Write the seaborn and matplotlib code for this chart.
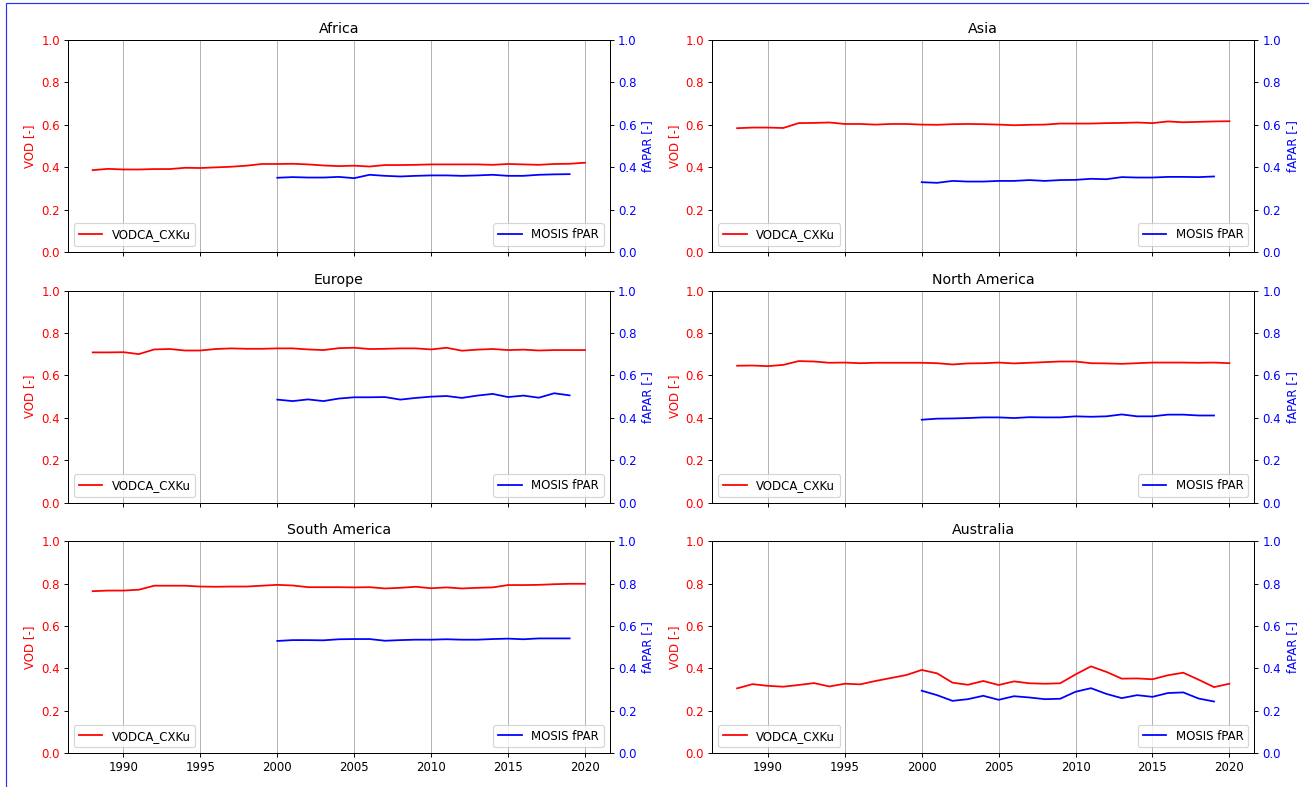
import numpy as np
import pandas as pd
import matplotlib
matplotlib.use("Agg")
import matplotlib.pyplot as plt
from matplotlib.patches import Rectangle
import seaborn as sns

# years for each product
vod_years = list(range(1988, 2021))
fapar_years = list(range(2000, 2020))

regions = ['Africa', 'Asia', 'Europe', 'North America', 'South America', 'Australia']

vod_africa = [0.386, 0.392, 0.389, 0.389, 0.391, 0.391, 0.397, 0.396, 0.399, 0.402, 0.407,
              0.415, 0.415, 0.416, 0.413, 0.408, 0.405, 0.407, 0.403, 0.410, 0.410, 0.411,
              0.413, 0.413, 0.413, 0.413, 0.411, 0.415, 0.413, 0.411, 0.415, 0.416, 0.421]
vod_asia = [0.584, 0.587, 0.587, 0.585, 0.608, 0.609, 0.611, 0.604, 0.604, 0.601, 0.604,
            0.604, 0.601, 0.600, 0.603, 0.604, 0.603, 0.601, 0.598, 0.600, 0.601, 0.606,
            0.606, 0.606, 0.608, 0.609, 0.611, 0.608, 0.616, 0.612, 0.614, 0.616, 0.617]
vod_europe = [0.709, 0.709, 0.710, 0.701, 0.723, 0.725, 0.718, 0.718, 0.725, 0.728, 0.726,
              0.726, 0.728, 0.728, 0.723, 0.720, 0.729, 0.731, 0.725, 0.726, 0.728, 0.728,
              0.723, 0.731, 0.717, 0.722, 0.725, 0.720, 0.722, 0.718, 0.720, 0.720, 0.720]
vod_namerica = [0.646, 0.647, 0.644, 0.650, 0.668, 0.666, 0.660, 0.661, 0.658, 0.660, 0.660,
                0.660, 0.660, 0.658, 0.652, 0.657, 0.658, 0.661, 0.657, 0.660, 0.663, 0.666,
                0.666, 0.658, 0.657, 0.655, 0.658, 0.661, 0.661, 0.661, 0.660, 0.661, 0.658]
vod_samerica = [0.765, 0.768, 0.768, 0.772, 0.791, 0.791, 0.791, 0.787, 0.786, 0.787, 0.787,
                0.791, 0.795, 0.792, 0.784, 0.784, 0.784, 0.783, 0.784, 0.778, 0.781, 0.786,
                0.779, 0.783, 0.778, 0.781, 0.783, 0.794, 0.794, 0.795, 0.798, 0.800, 0.800]
vod_australia = [0.306, 0.326, 0.318, 0.314, 0.322, 0.331, 0.315, 0.328, 0.325, 0.341, 0.355,
                 0.369, 0.393, 0.377, 0.333, 0.323, 0.341, 0.322, 0.339, 0.330, 0.328, 0.330,
                 0.372, 0.410, 0.384, 0.352, 0.353, 0.349, 0.368, 0.380, 0.347, 0.312, 0.328]

fapar_africa = [0.350, 0.353, 0.351, 0.351, 0.354, 0.348, 0.364, 0.359, 0.356, 0.359,
                0.361, 0.361, 0.359, 0.361, 0.364, 0.359, 0.359, 0.364, 0.366, 0.367]
fapar_asia = [0.329, 0.326, 0.335, 0.332, 0.332, 0.335, 0.335, 0.339, 0.335, 0.339,
              0.340, 0.345, 0.343, 0.353, 0.351, 0.351, 0.354, 0.354, 0.353, 0.356]
fapar_europe = [0.486, 0.479, 0.487, 0.479, 0.491, 0.497, 0.497, 0.498, 0.486, 0.494,
                0.500, 0.503, 0.494, 0.505, 0.513, 0.498, 0.505, 0.495, 0.516, 0.506]
fapar_namerica = [0.391, 0.396, 0.397, 0.399, 0.402, 0.402, 0.399, 0.403, 0.402, 0.402,
                  0.407, 0.405, 0.407, 0.416, 0.407, 0.407, 0.415, 0.415, 0.411, 0.411]
fapar_samerica = [0.530, 0.534, 0.534, 0.533, 0.538, 0.539, 0.539, 0.531, 0.534, 0.536,
                  0.536, 0.538, 0.536, 0.536, 0.539, 0.541, 0.538, 0.542, 0.542, 0.542]
fapar_australia = [0.295, 0.274, 0.247, 0.255, 0.271, 0.252, 0.269, 0.263, 0.255, 0.257,
                   0.290, 0.307, 0.280, 0.260, 0.274, 0.266, 0.284, 0.287, 0.258, 0.244]

vod_series = [vod_africa, vod_asia, vod_europe, vod_namerica, vod_samerica, vod_australia]
fapar_series = [fapar_africa, fapar_asia, fapar_europe, fapar_namerica, fapar_samerica, fapar_australia]

DPI = 85


def main():
    fig, axes = plt.subplots(3, 2, figsize=(1309 / DPI, 787 / DPI), dpi=DPI, sharex=True)
    fig.subplots_adjust(left=0.052, right=0.958, top=0.949, bottom=0.043,
                        wspace=0.19, hspace=0.184)

    for ax, region, vod, fapar in zip(axes.flatten(), regions, vod_series, fapar_series):
        vdf = pd.DataFrame({'year': vod_years, 'vod': vod})
        fdf = pd.DataFrame({'year': fapar_years, 'fapar': fapar})

        sns.lineplot(data=vdf, x='year', y='vod', ax=ax, color='red', label='VODCA_CXKu')
        ax.set_ylim(0, 1)
        ax.set_ylabel('VOD [-]', color='red')
        ax.set_xlabel('')
        ax.tick_params(axis='y', labelcolor='red')
        ax.set_title(region)
        ax.grid(True, axis='x')
        ax.legend(loc='lower left')

        ax2 = ax.twinx()
        sns.lineplot(data=fdf, x='year', y='fapar', ax=ax2, color='blue', label='MOSIS fPAR')
        ax2.set_ylim(0, 1)
        ax2.set_ylabel('fAPAR [-]', color='blue')
        ax2.tick_params(axis='y', labelcolor='blue')
        ax2.legend(loc='lower right')

    ax.set_xticks([1990, 1995, 2000, 2005, 2010, 2015, 2020])

    # thin blue frame visible at the top and left edge of the original
    fig.add_artist(Rectangle((6 / 1309, -0.1), 1.2, 1.1 - 3 / 787,
                             transform=fig.transFigure, fill=False,
                             edgecolor='#2233ff', linewidth=1))

    plt.savefig('out.png', dpi=DPI)


if __name__ == "__main__": main()
